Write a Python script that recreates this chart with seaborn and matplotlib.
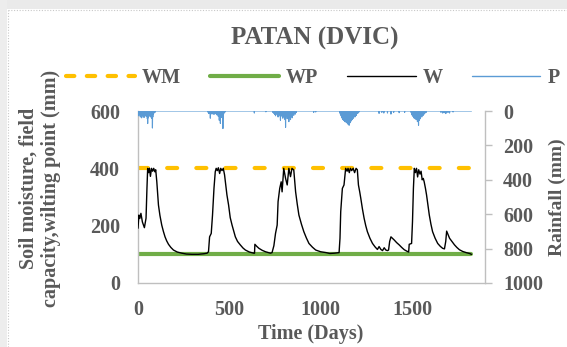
import numpy as np
import pandas as pd
import matplotlib
matplotlib.use("Agg")
import matplotlib.pyplot as plt
import seaborn as sns
from matplotlib.lines import Line2D
from matplotlib.patches import Rectangle

sns.set_theme(style="white")
plt.rcParams["font.family"] = ["Liberation Serif", "DejaVu Serif"]
plt.rcParams["font.weight"] = "bold"

TEXT = "#595959"
AXIS = "#BFBFBF"

# ---- data -------------------------------------------------------------
n_days = 1826
field_capacity = 400   # WM
wilting_point = 100    # WP

# simulated soil moisture W (mm)
w_days = [0, 5, 10, 16, 24, 35, 44, 49, 53, 58, 63, 68, 74, 80, 86, 92, 97,
          103, 108, 112, 120, 130, 139, 148, 157, 167, 180, 194, 215, 240, 265,
          295, 330, 360, 378, 386, 392, 401, 408, 416, 423, 428, 434, 440, 447,
          453, 460, 467, 474, 487, 496, 505, 515, 533, 545, 560, 575, 588, 610,
          634, 638, 640, 650, 662, 680, 698, 725, 734, 744, 753, 762, 767, 776,
          784, 789, 798, 808, 817, 826, 835, 843, 853, 863, 872, 881, 895, 908,
          922, 936, 955, 973, 1000, 1030, 1050, 1075, 1101, 1106, 1110, 1119,
          1128, 1137, 1145, 1150, 1157, 1163, 1170, 1178, 1186, 1194, 1201,
          1207, 1214, 1220, 1229, 1238, 1247, 1256, 1270, 1284, 1298, 1311,
          1320, 1330, 1339, 1348, 1357, 1366, 1372, 1378, 1385, 1393, 1403,
          1416, 1430, 1444, 1458, 1472, 1482, 1485, 1498, 1503, 1508, 1513,
          1519, 1525, 1531, 1537, 1544, 1550, 1556, 1562, 1567, 1574, 1580,
          1588, 1595, 1604, 1613, 1627, 1641, 1655, 1668, 1678, 1685, 1690,
          1698, 1706, 1720, 1733, 1746, 1760, 1778, 1797, 1815, 1826]
w_values = [191, 237, 225, 243, 213, 193, 226, 330, 400, 385, 400, 372, 400,
            390, 400, 388, 395, 353, 310, 272, 236, 202, 180, 161, 147, 135,
            124, 115, 108, 104, 101, 100, 100, 102, 104, 109, 161, 173, 237,
            330, 388, 400, 392, 402, 382, 400, 392, 400, 377, 307, 272, 228,
            202, 161, 145, 133, 122, 115, 108, 104, 104, 135, 128, 121, 114,
            109, 104, 106, 130, 173, 202, 284, 330, 353, 318, 400, 365, 342,
            400, 371, 400, 394, 318, 275, 237, 205, 179, 157, 138, 125, 115,
            109, 106, 103, 104, 106, 156, 249, 330, 342, 400, 390, 400, 385,
            400, 392, 400, 385, 400, 395, 342, 318, 295, 258, 226, 200, 179,
            156, 138, 126, 117, 127, 117, 113, 123, 115, 113, 115, 145, 161,
            156, 150, 141, 133, 124, 116, 111, 108, 135, 138, 214, 330, 400,
            385, 400, 370, 395, 380, 390, 360, 365, 353, 330, 307, 270, 237,
            205, 179, 156, 138, 128, 121, 119, 145, 181, 168, 156, 144, 133,
            124, 116, 110, 106, 103, 100]

# daily rainfall P (mm); days not listed are dry
rain_days = [1, 4, 7, 10, 13, 16, 20, 23, 27, 30, 33, 37, 41, 45, 48, 51, 53,
             56, 59, 62, 65, 69, 72, 75, 79, 81, 84, 88, 93,
             384, 388, 392, 396, 400, 405, 410, 416, 421, 426, 431, 435, 439,
             442, 445, 448, 451, 454, 457, 460, 463, 465, 468, 472, 477,
             637, 700,
             738, 744, 749, 753, 757, 762, 767, 771, 775, 780, 784, 788, 793,
             797, 801, 805, 808, 812, 817, 821, 826, 830, 835, 839, 844, 848,
             853, 858, 862, 867, 962, 973,
             1105, 1108, 1112, 1115, 1118, 1121, 1124, 1127, 1130, 1133, 1136,
             1139, 1142, 1145, 1148, 1151, 1154, 1156, 1159, 1162, 1165, 1168,
             1171, 1174, 1177, 1180, 1184, 1188, 1192, 1196, 1200, 1205, 1210,
             1320, 1335, 1346, 1366, 1385, 1400, 1430, 1460,
             1496, 1500, 1503, 1507, 1510, 1513, 1517, 1520, 1523, 1527, 1530,
             1533, 1536, 1539, 1542, 1546, 1550, 1554, 1558, 1562, 1567, 1572,
             1578,
             1659, 1668, 1676, 1685, 1690, 1698, 1706, 1725]
rain_mm = [20, 28, 12, 18, 35, 15, 40, 22, 30, 14, 38, 20, 26, 32, 18, 45, 73,
           40, 22, 30, 18, 35, 25, 42, 99, 35, 20, 12, 8,
           8, 15, 12, 42, 10, 18, 12, 20, 10, 16, 22, 14, 30, 25, 54, 30, 72,
           28, 38, 25, 45, 102, 22, 12, 6,
           12, 5,
           8, 14, 20, 28, 15, 22, 35, 30, 20, 54, 30, 25, 42, 30, 35, 50, 95,
           30, 45, 25, 62, 35, 50, 28, 40, 22, 25, 15, 18, 8, 8, 6,
           10, 18, 28, 40, 30, 50, 42, 55, 48, 62, 50, 65, 55, 70, 60, 78, 66,
           83, 60, 68, 52, 58, 45, 50, 38, 42, 30, 35, 22, 25, 15, 12, 6,
           14, 8, 12, 12, 18, 8, 10, 8,
           10, 22, 30, 18, 40, 25, 45, 35, 50, 40, 62, 48, 83, 55, 40, 45, 30,
           35, 22, 25, 18, 12, 8,
           8, 12, 10, 15, 10, 8, 12, 6]

x_ticks = [0, 500, 1000, 1500]
left_ticks = [0, 200, 400, 600]
right_ticks = [0, 200, 400, 600, 800, 1000]

# ---- frames -----------------------------------------------------------
all_days = np.arange(n_days + 1)
rain = np.zeros(n_days + 1)
rain[rain_days] = rain_mm
df_rain = pd.DataFrame({"day": all_days, "P": rain})
df_w = pd.DataFrame({"day": w_days, "W": w_values})
df_lim = pd.DataFrame({"day": [0, n_days],
                       "WM": [field_capacity] * 2,
                       "WP": [wilting_point] * 2})

# ---- figure -----------------------------------------------------------
W, H = 567, 347
fig = plt.figure(figsize=(W / 100, H / 100), dpi=100)
fig.patch.set_facecolor("white")

# light frame band along top and left edges
fig.patches.append(Rectangle((0, 1 - 9 / H), 1, 9 / H, transform=fig.transFigure,
                             facecolor="#EAEAEA", edgecolor="none", zorder=-5))
fig.patches.append(Rectangle((0, 0), 7 / W, 1, transform=fig.transFigure,
                             facecolor="#EDEDED", edgecolor="none", zorder=-5))
fig.add_artist(Line2D([8 / W, 1], [1 - 10 / H] * 2, transform=fig.transFigure,
                      color="#C8C8C8", lw=0.8, ls=(0, (1, 1.5))))
fig.add_artist(Line2D([8 / W] * 2, [0, 1 - 10 / H], transform=fig.transFigure,
                      color="#C8C8C8", lw=0.8, ls=(0, (1, 1.5))))

ax = fig.add_axes([138 / W, 1 - 283 / H, (485 - 138) / W, (283 - 111) / H])
ax.set_facecolor("none")

sns.lineplot(data=df_lim, x="day", y="WM", ax=ax, color="#FFC000", lw=3.0,
             estimator=None, errorbar=None, zorder=2)
ax.lines[-1].set_dashes((2.4, 4.6))
ax.lines[-1].set_dash_capstyle("round")
sns.lineplot(data=df_lim, x="day", y="WP", ax=ax, color="#70AD47", lw=3.0,
             estimator=None, errorbar=None, zorder=2)
sns.lineplot(data=df_w, x="day", y="W", ax=ax, color="black", lw=1.0,
             estimator=None, errorbar=None, zorder=3)

ax.set_xlim(0, 1900)
ax.set_ylim(0, 600)
ax.set_xticks(x_ticks)
ax.set_yticks(left_ticks)
ax.set_xlabel("")
ax.set_ylabel("")
for s in ("top", "right"):
    ax.spines[s].set_visible(False)
for s in ("left", "bottom"):
    ax.spines[s].set_color(AXIS)
    ax.spines[s].set_linewidth(1.0)
ax.tick_params(axis="y", length=0, pad=13, labelsize=14.5, labelcolor=TEXT)
ax.tick_params(axis="x", length=0, pad=12, labelsize=14.5, labelcolor=TEXT)

ax2 = ax.twinx()
sns.lineplot(data=df_rain, x="day", y="P", ax=ax2, color="#5B9BD5", lw=0.8,
             estimator=None, errorbar=None)
ax2.set_ylim(1000, 0)
ax2.set_yticks(right_ticks)
ax2.set_ylabel("")
for s in ("top", "left", "bottom"):
    ax2.spines[s].set_visible(False)
ax2.spines["right"].set_color(AXIS)
ax2.spines["right"].set_linewidth(1.0)
ax2.tick_params(axis="y", length=5, width=1.0, color=AXIS, direction="out",
                pad=8, labelsize=14.5, labelcolor=TEXT)

for a in (ax, ax2):
    for lab in a.get_xticklabels() + a.get_yticklabels():
        lab.set_fontweight("bold")

# ---- text -------------------------------------------------------------
fig.text(315 / W, 1 - 38 / H, "PATAN (DVIC)", ha="center", va="center",
         fontsize=18, fontweight="bold", color=TEXT)
fig.text(311 / W, 1 - 334 / H, "Time (Days)", ha="center", va="center",
         fontsize=14.5, fontweight="bold", color=TEXT)
fig.text(40 / W, 1 - 188 / H, "Soil moisture, field\ncapacity,wilting point (mm)",
         rotation=90, ha="center", va="center", multialignment="center",
         linespacing=1.15, fontsize=14.5, fontweight="bold", color=TEXT)
fig.text(557 / W, 1 - 197 / H, "Rainfall (mm)", rotation=90, ha="center",
         va="center", fontsize=14, fontweight="bold", color=TEXT)

handles = [
    Line2D([], [], color="#FFC000", lw=3.0, dashes=(2.0, 3.0),
           dash_capstyle="round"),
    Line2D([], [], color="#70AD47", lw=3.0),
    Line2D([], [], color="black", lw=1.0),
    Line2D([], [], color="#5B9BD5", lw=1.0),
]
fig.legend(handles, ["WM", "WP", "W", "P"], loc="center",
           bbox_to_anchor=(313 / W, 1 - 78 / H), ncol=4, frameon=False,
           handlelength=3.4, handletextpad=0.35, columnspacing=1.45,
           prop={"size": 14.5, "weight": "bold"}, labelcolor=TEXT)

fig.savefig("out.png", dpi=100)
